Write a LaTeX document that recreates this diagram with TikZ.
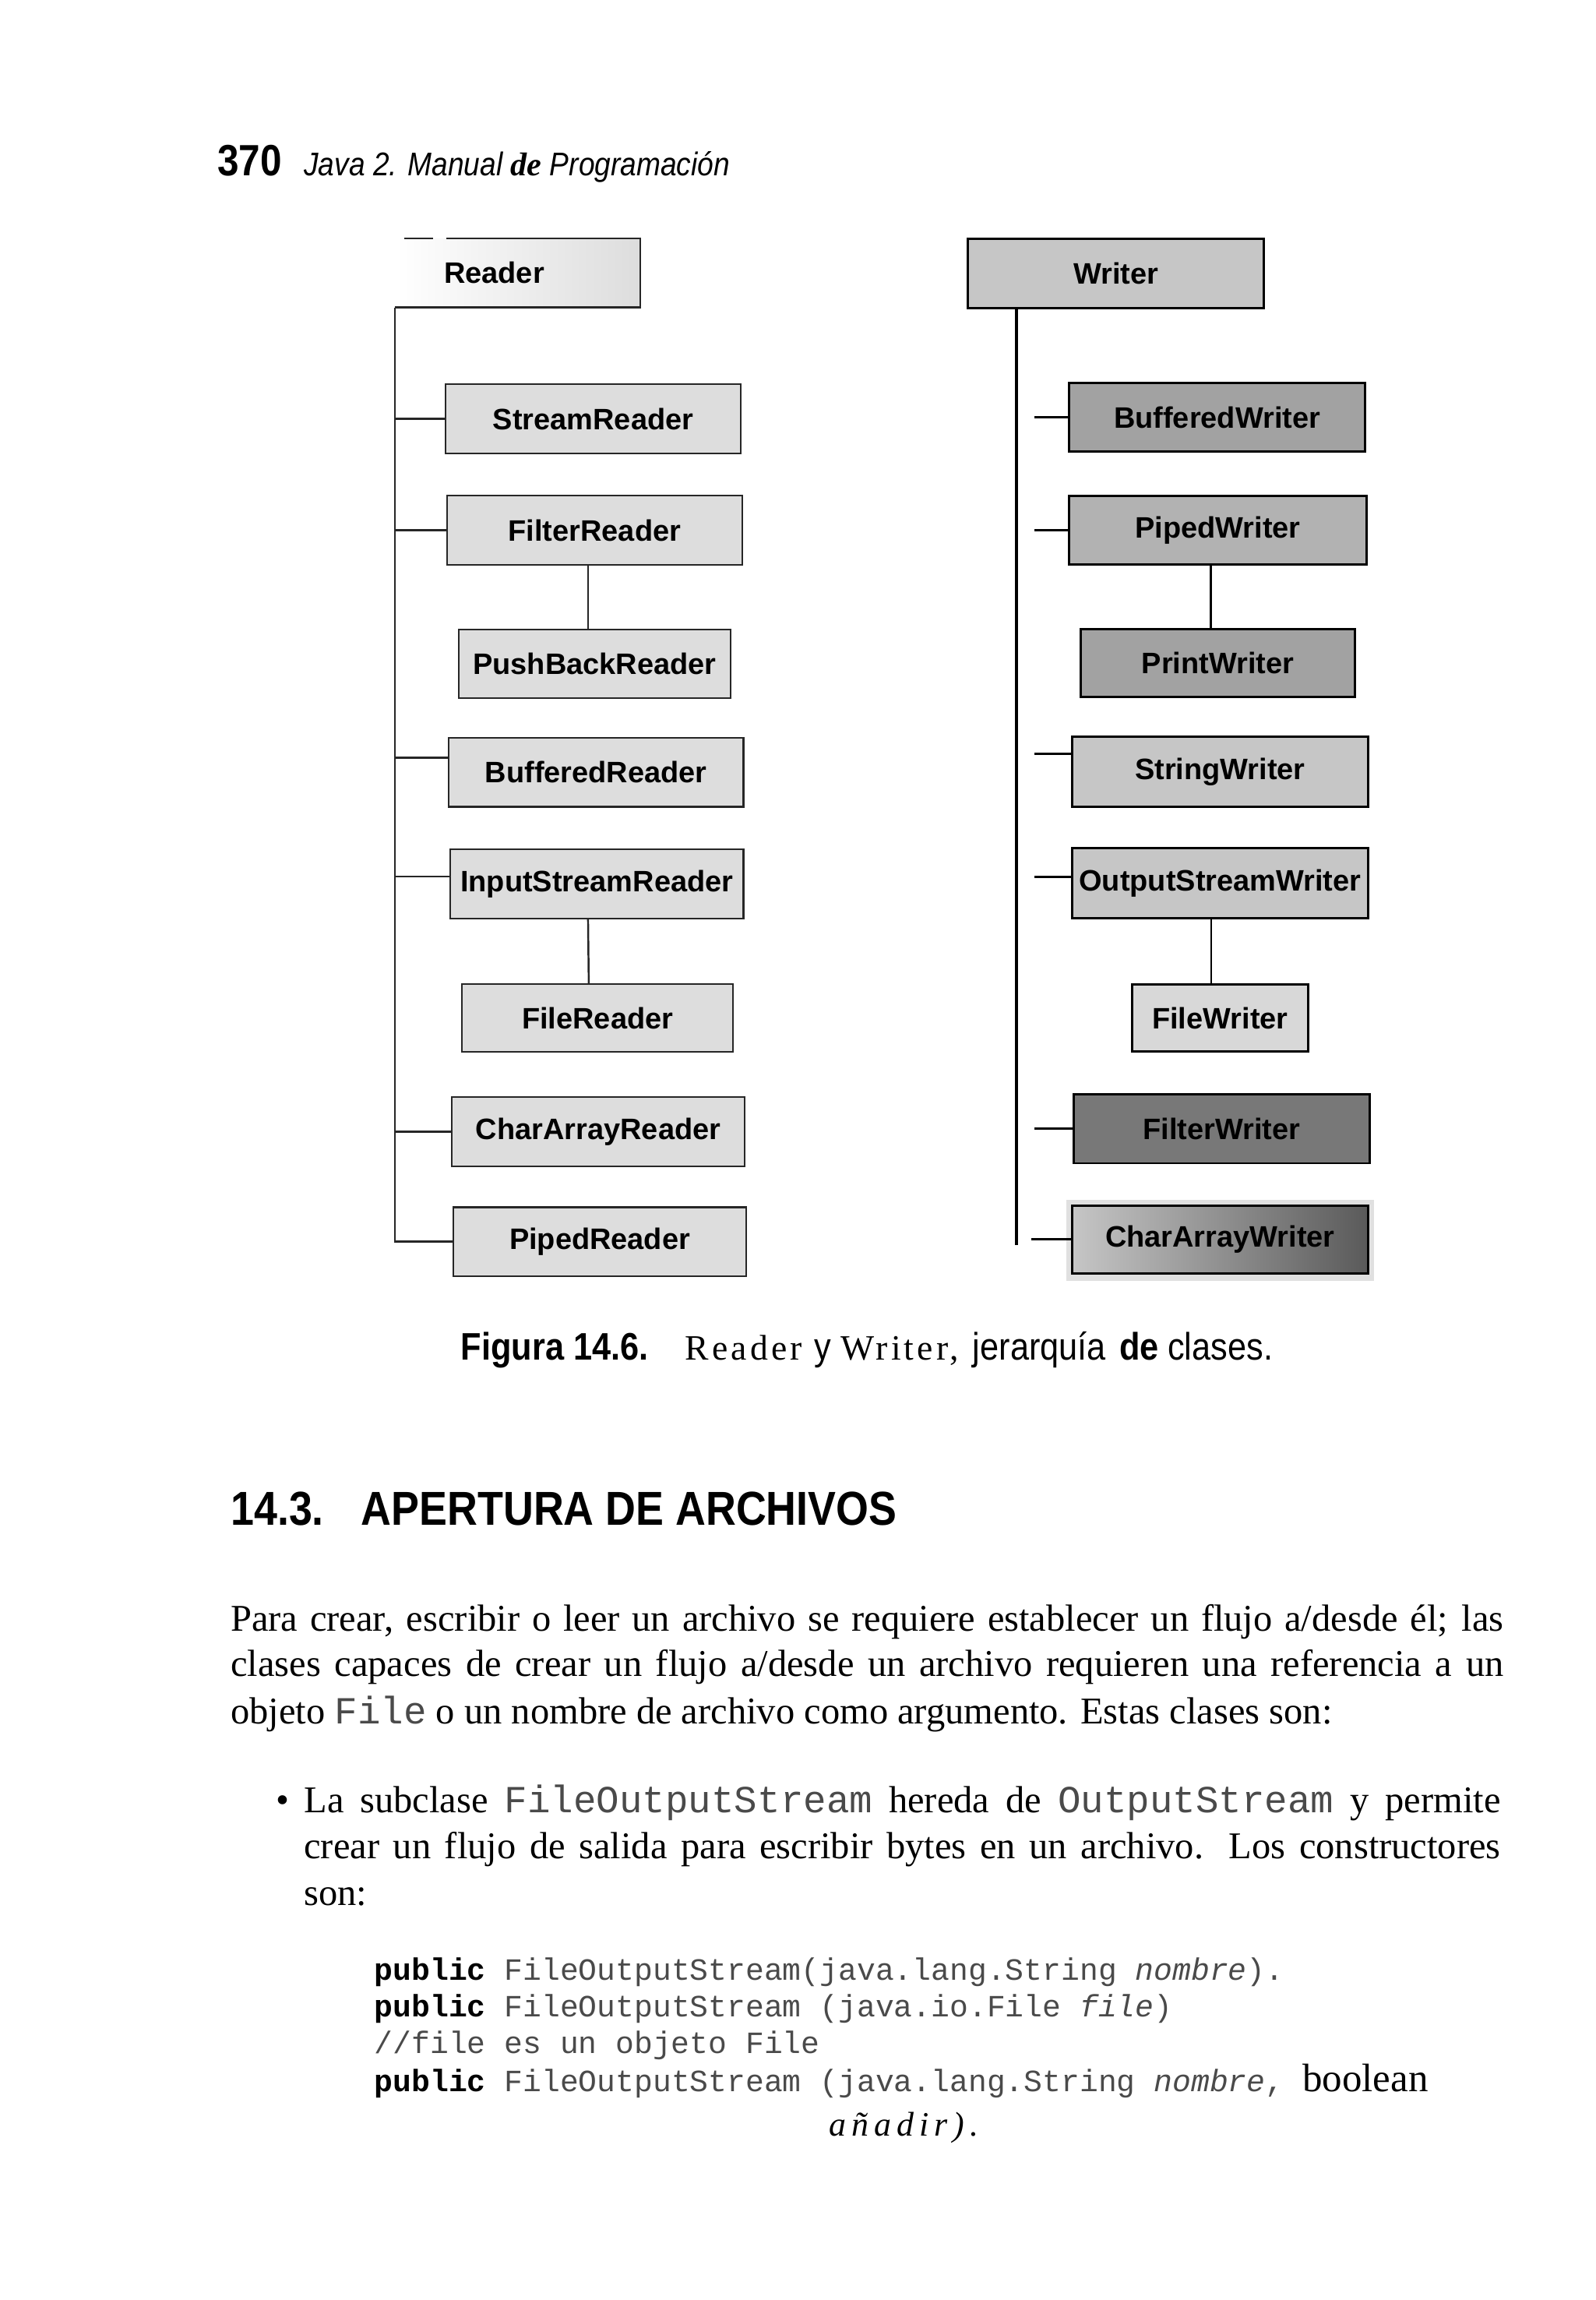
\documentclass[tikz,border=0pt]{standalone}
\usepackage{fontspec}
\setmainfont{Liberation Serif}
\setmonofont{Liberation Mono}
\newfontfamily\sansf{Liberation Sans}
\newfontfamily\narrowf[FakeStretch=0.88]{Liberation Sans}
\newfontfamily\spacedf[LetterSpace=9]{Liberation Serif}
\newfontfamily\widef[LetterSpace=16]{Liberation Serif}
\definecolor{rfill}{HTML}{DDDDDD}
\definecolor{wfill}{HTML}{C6C6C6}
\definecolor{wmid}{HTML}{B2B2B2}
\definecolor{wdark}{HTML}{A2A2A2}
\definecolor{wdeep}{HTML}{787878}
\definecolor{wblack}{HTML}{5A5A5A}
\definecolor{halo}{HTML}{E0E0E0}
\definecolor{mono}{HTML}{4A4A4A}
\newlength\ux
\setlength\ux{0.018824cm}
\newcommand\codeword[1]{{\ttfamily\fontsize{14}{14}\selectfont\color{mono}#1}}

\begin{document}
\begin{tikzpicture}[x=0.018824cm, y=-0.018824cm,
  rbox/.style={draw=black!85, line width=0.6pt, fill=rfill, inner sep=0pt,
    minimum height=47\ux, font=\sansf\bfseries\fontsize{10.8}{12}\selectfont},
  wbox/.style={draw=black, line width=0.8pt, fill=wfill, inner sep=0pt,
    minimum height=47\ux, font=\sansf\bfseries\fontsize{10.8}{12}\selectfont},
  rline/.style={black!85, line width=0.7pt},
  wline/.style={black, line width=1.1pt},
  txt/.style={anchor=base west, inner sep=0pt},
  body/.style={txt, font=\fontsize{13.8}{16}\selectfont},
  code/.style={txt, font=\ttfamily\fontsize{11.3}{13}\selectfont},
  narrow/.style={txt, font=\narrowf\fontsize{14}{16}\selectfont}]
  \fill[white] (0,0) rectangle (1088,1568);
  \useasboundingbox (0,0) rectangle (1088,1568);

  \node[txt, font=\narrowf\bfseries\fontsize{16}{18}\selectfont] (pg) at (148,120) {370};
  \node[txt, font=\narrowf\itshape\fontsize{12}{14}\selectfont] (book) at (207,120)
    {Java 2. Manual {\rmfamily\bfseries\itshape de} Programación};

  \node[rbox, draw=none, left color=white, right color=rfill, minimum width=166\ux,
    minimum height=46\ux] (rd) at (353,186) {};
  \node[font=\sansf\bfseries\fontsize{10.8}{12}\selectfont, inner sep=0pt] (rdl) at (337,186) {Reader};
  \draw[rline] ([xshift=35\ux]rd.north west) -- (rd.north east) -- (rd.south east) -- (rd.south west);
  \draw[rline] ([xshift=6\ux]rd.north west) -- ++(20,0);
  \node[rbox, minimum width=201\ux] (sr) at (404.5,285.5) {StreamReader};
  \node[rbox, minimum width=201\ux] (fr) at (405.5,361.5) {FilterReader};
  \node[rbox, minimum width=185\ux] (pb) at (405.5,452.5) {PushBackReader};
  \node[rbox, minimum width=201\ux] (bf) at (406.5,526.5) {BufferedReader};
  \node[rbox, minimum width=200\ux] (is) at (407,602.5) {InputStreamReader};
  \node[rbox, minimum width=185\ux, minimum height=46\ux] (fi) at (407.5,694) {FileReader};
  \node[rbox, minimum width=200\ux] (ca) at (408,771.5) {CharArrayReader};
  \node[rbox, minimum width=200\ux] (rp) at (409,846.5) {PipedReader};
  \draw[rline] (rd.south west) |- (rp.west);
  \foreach \n/\dy/\len in {sr/0/34, fr/0/35, bf/10/36, is/5/37, ca/0/38}
    \draw[rline] ([yshift=\dy\ux]\n.west) -- ++(-\len,0);
  \draw[rline] ([xshift=-4.5\ux]fr.south) -- ([xshift=-4.5\ux]pb.north);
  \draw[rline] ([xshift=-6\ux]is.south) -- ([xshift=-6\ux]fi.north);

  \fill[halo] (727,818) rectangle (937,873);
  \node[wbox, minimum width=202\ux] (wr) at (761,186.5) {Writer};
  \node[wbox, fill=wdark, minimum width=202\ux] (bw) at (830,284.5) {BufferedWriter};
  \node[wbox, fill=wmid, minimum width=203\ux] (pw) at (830.5,361.5) {PipedWriter};
  \node[wbox, fill=wdark, minimum width=187\ux, minimum height=46\ux] (pt) at (830.5,452) {PrintWriter};
  \node[wbox, minimum width=202\ux, minimum height=48\ux] (sw) at (832,526) {StringWriter};
  \node[wbox, minimum width=202\ux, minimum height=48\ux] (ow) at (832,602) {OutputStreamWriter};
  \node[wbox, fill=rfill!80!wfill, minimum width=120\ux, minimum height=46\ux] (fw) at (832,694) {FileWriter};
  \node[wbox, fill=wdeep, minimum width=202\ux] (ft) at (833,769.5) {FilterWriter};
  \node[wbox, left color=wfill, right color=wblack, minimum width=202\ux,
    minimum height=46\ux] (cw) at (832,845) {CharArrayWriter};
  \draw[wline] ([xshift=34\ux]wr.south west) -- ++(0,638);
  \foreach \n/\dy/\len in {bw/0/23, pw/0/23, sw/12/25, ow/4/25, ft/0/26, cw/0/27}
    \draw[wline, line width=0.8pt] ([yshift=\dy\ux]\n.west) -- ++(-\len,0);
  \draw[wline, line width=0.8pt] ([xshift=-5\ux]pw.south) -- ([xshift=-5\ux]pt.north);
  \draw[wline, line width=0.8pt] ([xshift=-6\ux]ow.south) -- ([xshift=-6\ux]fw.north);

  \node[narrow, font=\narrowf\bfseries\fontsize{14}{16}\selectfont] (fig) at (314,927) {Figura 14.6.};
  \node[txt, font=\spacedf\fontsize{13}{16}\selectfont] (capr) at (467,927) {Reader};
  \node[narrow] (capy) at (555,927) {y};
  \node[txt, font=\spacedf\fontsize{13}{16}\selectfont] (capw) at (573,927) {Writer,};
  \node[narrow] (capj) at (663,927) {jerarquía};
  \node[narrow, font=\narrowf\bfseries\fontsize{14}{16}\selectfont] (capd) at (763,927) {de};
  \node[narrow] (capc) at (796,927) {clases.};

  \node[txt, font=\narrowf\bfseries\fontsize{17.4}{20}\selectfont] (secn) at (157,1040) {14.3.};
  \node[txt, font=\narrowf\bfseries\fontsize{17.4}{20}\selectfont] (sect) at (246,1040) {APERTURA DE ARCHIVOS};

  \node[body] (p1) at (157,1112) {\makebox[868\ux][s]{Para crear, escribir o leer un archivo se requiere establecer un flujo a/desde él; las}};
  \node[body] (p2) at (157,1143) {\makebox[868\ux][s]{clases capaces de crear un flujo a/desde un archivo requieren una referencia a un}};
  \node[body] (p3) at (157,1175) {objeto \codeword{File} o un nombre de archivo como argumento. Estas clases son:};
  \node[body] (bul) at (188,1236) {\textbullet};
  \node[body] (b1) at (207,1236) {\makebox[816\ux][s]{La subclase \codeword{FileOutputStream} hereda de \codeword{OutputStream} y permite}};
  \node[body] (b2) at (207,1267) {\makebox[816\ux][s]{crear un flujo de salida para escribir bytes en un archivo. Los constructores}};
  \node[body] (b3) at (207,1299) {son:};

  \node[code] (c1) at (255,1350) {\textbf{public} {\color{mono}FileOutputStream(java.lang.String \textit{nombre}).}};
  \node[code] (c2) at (255,1375) {\textbf{public} {\color{mono}FileOutputStream (java.io.File \textit{file})}};
  \node[code] (c3) at (255,1400) {{\color{mono}//file es un objeto File}};
  \node[code] (c4) at (255,1426) {\textbf{public} {\color{mono}FileOutputStream (java.lang.String \textit{nombre},} {\rmfamily\fontsize{14.5}{14}\selectfont boolean}};
  \node[txt, font=\widef\itshape\fontsize{12.5}{14}\selectfont] (c5) at (565,1456) {añadir).};
\end{tikzpicture}
\end{document}
